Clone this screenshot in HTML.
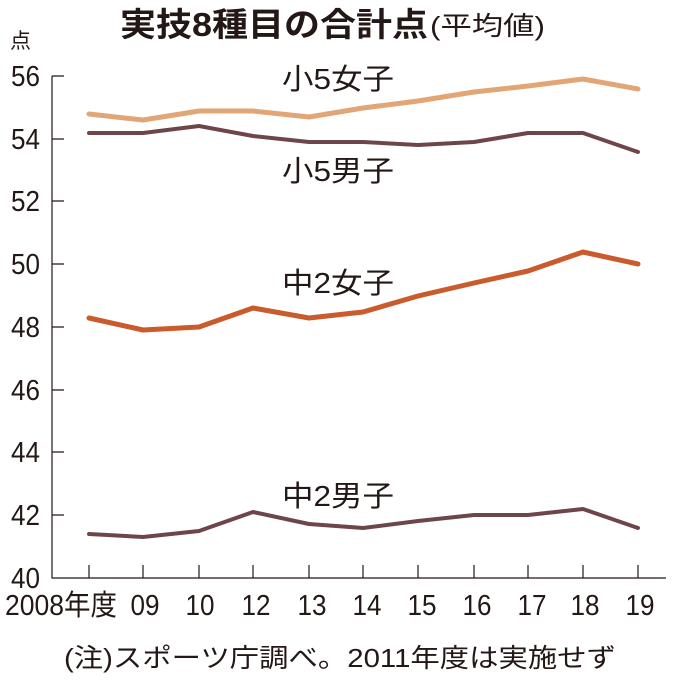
<!DOCTYPE html>
<html><head><meta charset="utf-8"><style>
body{margin:0;background:#fff;}
svg text{font-family:"Liberation Sans","Noto Sans CJK JP",sans-serif;fill:#231815;}
</style></head><body>
<svg width="680" height="678" viewBox="0 0 680 678" xmlns="http://www.w3.org/2000/svg">
<rect width="680" height="678" fill="#fff"/>
<text x="120" y="36" font-size="33" font-weight="bold" textLength="308" lengthAdjust="spacingAndGlyphs">実技8種目の合計点</text>
<text x="430" y="35" font-size="26" textLength="115" lengthAdjust="spacingAndGlyphs">(平均値)</text>
<text x="10" y="48" font-size="21">点</text>
<g font-size="29" text-anchor="end">
<text x="40" y="588" textLength="29" lengthAdjust="spacingAndGlyphs">40</text>
<text x="40" y="525" textLength="29" lengthAdjust="spacingAndGlyphs">42</text>
<text x="40" y="462" textLength="29" lengthAdjust="spacingAndGlyphs">44</text>
<text x="40" y="400" textLength="29" lengthAdjust="spacingAndGlyphs">46</text>
<text x="40" y="337" textLength="29" lengthAdjust="spacingAndGlyphs">48</text>
<text x="40" y="274" textLength="29" lengthAdjust="spacingAndGlyphs">50</text>
<text x="40" y="211" textLength="29" lengthAdjust="spacingAndGlyphs">52</text>
<text x="40" y="149" textLength="29" lengthAdjust="spacingAndGlyphs">54</text>
<text x="40" y="86" textLength="29" lengthAdjust="spacingAndGlyphs">56</text>
</g>
<g stroke="#231815" stroke-width="1.2" fill="none">
<path d="M52 76V578H666"/>
<path d="M52 76H64M52 139H64M52 201H64M52 264H64M52 327H64M52 390H64M52 452H64M52 515H64"/>
<path d="M89 578v-13M143 578v-13M199 578v-13M253 578v-13M309 578v-13M363 578v-13M418 578v-13M474 578v-13M528 578v-13M583 578v-13M638 578v-13"/>
</g>
<g font-size="29" text-anchor="middle">
<text x="61" y="615" textLength="112" lengthAdjust="spacingAndGlyphs">2008年度</text>
<text x="145" y="615" textLength="29" lengthAdjust="spacingAndGlyphs">09</text>
<text x="200" y="615" textLength="29" lengthAdjust="spacingAndGlyphs">10</text>
<text x="256" y="615" textLength="29" lengthAdjust="spacingAndGlyphs">12</text>
<text x="312" y="615" textLength="29" lengthAdjust="spacingAndGlyphs">13</text>
<text x="367" y="615" textLength="29" lengthAdjust="spacingAndGlyphs">14</text>
<text x="422" y="615" textLength="29" lengthAdjust="spacingAndGlyphs">15</text>
<text x="477" y="615" textLength="29" lengthAdjust="spacingAndGlyphs">16</text>
<text x="532" y="615" textLength="29" lengthAdjust="spacingAndGlyphs">17</text>
<text x="585" y="615" textLength="29" lengthAdjust="spacingAndGlyphs">18</text>
<text x="640" y="615" textLength="29" lengthAdjust="spacingAndGlyphs">19</text>
</g>
<g fill="none" stroke-width="5" stroke-linejoin="round" stroke-linecap="round">
<polyline stroke="#e2a676" points="89,114 143,120 199,111 253,111 309,117 363,108 418,101 474,92 528,86 583,79 638,89"/>
<polyline stroke="#6e4649" stroke-width="4" points="89,133 143,133 199,126 253,136 309,142 363,142 418,145 474,142 528,133 583,133 638,152"/>
<polyline stroke="#c95b2c" points="89,318 143,330 199,327 253,308 309,318 363,312 418,296 474,283 528,271 583,252 638,264"/>
<polyline stroke="#6e4649" stroke-width="4" points="89,534 143,537 199,531 253,512 309,524 363,528 418,521 474,515 528,515 583,509 638,528"/>
</g>
<g font-size="29" text-anchor="middle">
<text x="338" y="89" textLength="112" lengthAdjust="spacingAndGlyphs">小5女子</text>
<text x="338" y="181" textLength="112" lengthAdjust="spacingAndGlyphs">小5男子</text>
<text x="338" y="293" textLength="112" lengthAdjust="spacingAndGlyphs">中2女子</text>
<text x="338" y="506" textLength="112" lengthAdjust="spacingAndGlyphs">中2男子</text>
</g>
<text x="340" y="667" font-size="26" text-anchor="middle" textLength="552" lengthAdjust="spacingAndGlyphs">(注)スポーツ庁調べ。2011年度は実施せず</text>
</svg>
</body></html>
